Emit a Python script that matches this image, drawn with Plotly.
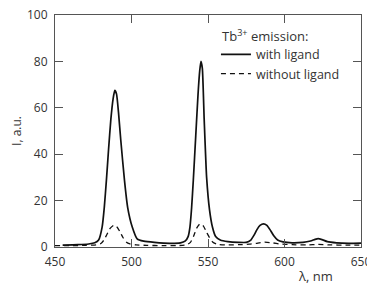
import plotly.graph_objects as go

# Tb3+ emission with ligand
wl_with = [455, 465, 472, 476, 478.5, 480.8, 482.2, 483.6, 485, 486.5, 488, 489.1, 490.2,
           491.5, 493, 495.4, 497.5, 500.5, 503.7, 508, 515, 525, 532, 535, 537, 538.2,
           539.3, 540.4, 542, 543.5, 544.6, 545.4, 546.3, 547.5, 549.1, 551, 552.9, 555,
           558, 563, 570, 575, 578, 580, 582, 584, 586.3, 588.5, 590.5, 593, 595.5, 599,
           605, 612, 617, 620, 622, 624.5, 628, 634, 642, 650]
int_with = [0.8, 1.0, 1.3, 1.8, 3.0, 8.6, 17, 28.8, 42, 55, 64, 67.5, 66,
            58, 46, 28.8, 17, 8.6, 3.5, 2.5, 2.0, 1.6, 1.8, 2.5, 4.5, 8.6,
            17, 28.8, 48, 66, 76, 80, 77, 55, 30, 16, 8.6, 4.5,
            3.0, 2.3, 2.0, 2.0, 3.0, 5.0, 7.5, 9.3, 10, 9.3, 7.5, 4.8, 3.0, 2.2,
            1.8, 2.0, 2.6, 3.3, 3.6, 3.2, 2.3, 1.8, 1.6, 1.7]

# Tb3+ emission without ligand
wl_without = [450, 460, 470, 477, 480, 482, 484, 486, 488.4, 490.5, 492.5, 494.5, 496.5,
              499, 503, 510, 520, 530, 536, 538.5, 540.5, 542.5, 544.8, 547, 549, 551,
              553, 556, 562, 570, 577, 582, 587, 592, 597, 605, 615, 622, 630, 640, 650]
int_without = [0.6, 0.6, 0.7, 0.9, 1.5, 3.0, 5.5, 8.0, 9.4, 8.6, 6.5, 4.0, 2.2,
               1.3, 0.9, 0.7, 0.6, 0.6, 0.9, 2.0, 4.5, 8.0, 10, 9.0, 6.5, 4.0,
               2.2, 1.2, 0.9, 1.0, 1.2, 1.6, 2.1, 1.8, 1.3, 1.0, 0.9, 1.1, 0.9, 0.8, 0.8]

x_ticks = [450, 500, 550, 600, 650]
y_ticks = [0, 20, 40, 60, 80, 100]

FONT = "Open Sans"
TXT = "#333333"
AX = "#555555"

fig = go.Figure()
fig.add_trace(go.Scatter(x=wl_with, y=int_with, mode="lines", name="with ligand",
                         line=dict(color="#111111", width=1.7, shape="spline", smoothing=0.5)))
fig.add_trace(go.Scatter(x=wl_without, y=int_without, mode="lines", name="without ligand",
                         line=dict(color="#111111", width=1.3, dash="5px,4px",
                                   shape="spline", smoothing=0.5)))

fig.update_layout(
    width=375, height=284,
    margin=dict(l=47, r=22, t=7, b=45),
    paper_bgcolor="white", plot_bgcolor="white",
    font=dict(family=FONT, size=12, color=TXT),
    showlegend=True,
    legend=dict(x=0.526, y=0.893, xanchor="left", yanchor="top",
                bgcolor="rgba(0,0,0,0)", borderwidth=0,
                font=dict(family=FONT, size=12.5, color=TXT),
                itemwidth=30, tracegroupgap=0),
    xaxis=dict(range=[450, 650], tickmode="array", tickvals=x_ticks,
               ticktext=[str(v) for v in x_ticks], automargin=False,
               ticklabeloverflow="allow",
               ticks="inside", ticklen=8, tickcolor=AX, showline=True,
               linecolor=AX, linewidth=1, mirror="ticks", showgrid=False,
               zeroline=False, tickfont=dict(size=12, color=TXT), ticklabelstandoff=4),
    yaxis=dict(range=[0, 100], tickmode="array", tickvals=y_ticks,
               ticktext=[str(v) for v in y_ticks], automargin=False,
               ticklabeloverflow="allow",
               ticks="inside", ticklen=8, tickcolor=AX, showline=True,
               linecolor=AX, linewidth=1, mirror="ticks", showgrid=False,
               zeroline=False, tickfont=dict(size=12, color=TXT), ticklabelstandoff=4,
               title=dict(text="I, a.u.", standoff=4, font=dict(size=12, color=TXT))),
    annotations=[
        dict(text="Tb<sup>3+</sup> emission:", x=0.539, y=0.912, xref="paper", yref="paper",
             xanchor="left", yanchor="middle", showarrow=False,
             font=dict(family=FONT, size=13, color=TXT)),
        dict(text="λ, nm", x=0.852, y=-0.125, xref="paper", yref="paper",
             xanchor="center", yanchor="middle", showarrow=False,
             font=dict(family=FONT, size=13, color=TXT)),
    ],
)

fig.write_html("out.html")
